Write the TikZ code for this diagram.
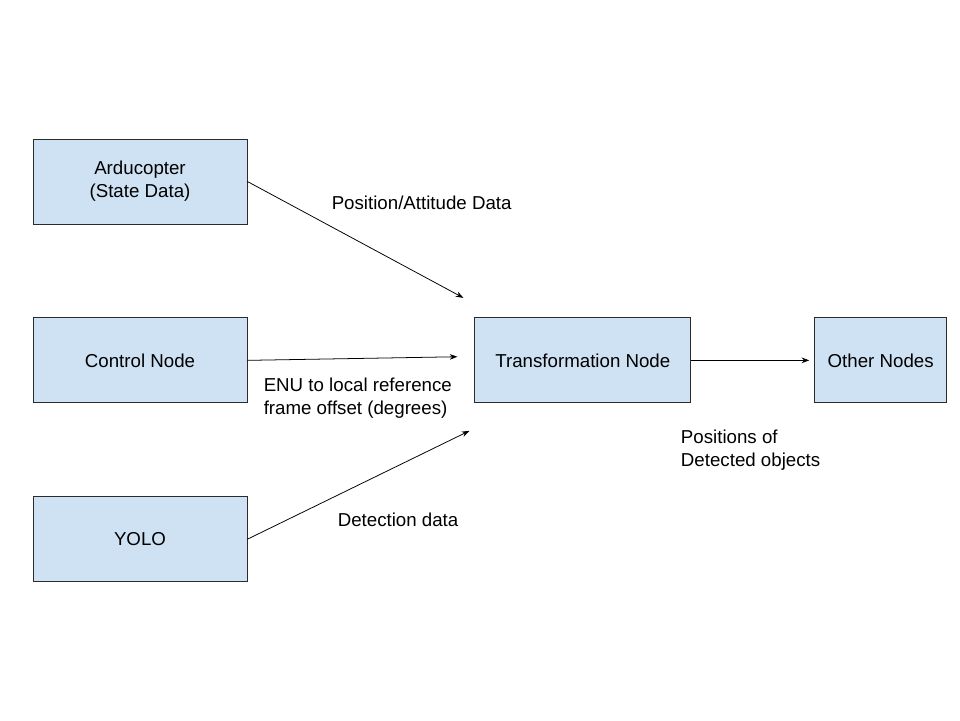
\documentclass[tikz,border=0pt]{standalone}
\usepackage{fontspec}
\setmainfont{Liberation Sans}
\usepackage{xcolor}
\usetikzlibrary{positioning,arrows.meta}

\definecolor{boxblue}{HTML}{CFE2F3}
\definecolor{boxline}{HTML}{2B2B2B}

\begin{document}
\begin{tikzpicture}[node distance=2.325cm, auto,
    font=\fontsize{13.3}{16.5}\selectfont,
    blockbox/.style={rectangle, draw=boxline, line width=0.6pt, fill=boxblue, align=center, minimum height=2.125cm},
    flow/.style={-{Stealth[length=5.5pt,width=4pt]}, line width=0.55pt}]
    \useasboundingbox (0,0) rectangle (24,-18);
    \node[blockbox, minimum width=5.35cm] (ardu) at (3.5,-4.5375) {Arducopter\\(State Data)};
    \node[blockbox, minimum width=5.35cm, below=of ardu] (ctrl) {Control Node};
    \node[blockbox, minimum width=5.35cm, below=of ctrl] (yolo) {YOLO};
    \node[blockbox, minimum width=5.4cm, right=5.675cm of ctrl] (trans) {Transformation Node};
    \node[blockbox, minimum width=3.3cm, right=3.075cm of trans] (other) {Other Nodes};

    % free arrow ends near the transformation node
    \coordinate (inA) at ([xshift=-0.275cm, yshift=1.5625cm]trans.west);
    \coordinate (inB) at ([xshift=-0.425cm, yshift=0.09cm]trans.west);
    \coordinate (inC) at ([xshift=-0.125cm, yshift=-1.7625cm]trans.west);
    \coordinate (outA) at ([xshift=-0.125cm]other.west);

    \draw[flow] (ardu.east) -- (inA);
    \draw[flow] (ctrl.east) -- (inB);
    \draw[flow] (yolo.east) -- (inC);
    \draw[flow] (trans.east) -- (outA);

    \node[anchor=west] (lblA) at (8.17,-5.07) {Position/Attitude Data};
    \node[anchor=west, align=left] (lblB) at (6.47,-9.95) {ENU to local reference\\frame offset (degrees)};
    \node[anchor=west] (lblC) at (8.32,-13.0) {Detection data};
    \node[anchor=west, align=left] (lblD) at (16.9,-11.25) {Positions of\\Detected objects};
\end{tikzpicture}
\end{document}
